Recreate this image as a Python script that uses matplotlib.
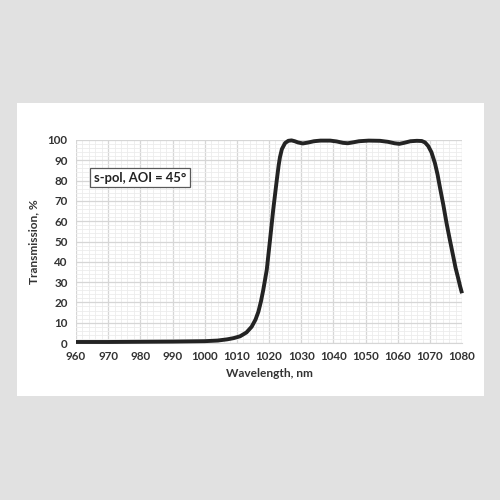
import matplotlib
matplotlib.use("Agg")
import matplotlib.pyplot as plt
from matplotlib.patches import Rectangle
from matplotlib.ticker import MultipleLocator

plt.rcParams["font.family"] = ["Lato", "DejaVu Sans"]

# values
wavelength = [960, 970, 980, 990, 1000, 1004, 1007, 1009, 1011, 1013, 1014.6,
              1015.8, 1016.7, 1017.5, 1018.2, 1019.3, 1020.3, 1021.3, 1022.4,
              1023, 1023.4, 1024, 1025, 1026, 1027, 1028, 1029, 1030.5, 1032,
              1034, 1036, 1039, 1041, 1043, 1044.5, 1046, 1048, 1051, 1054.5,
              1057, 1059, 1060.5, 1062, 1064, 1066, 1067.5, 1068.5, 1069.5,
              1070.5, 1071.6, 1072.4, 1073.1, 1074.2, 1075.2, 1076.2, 1077.3,
              1078, 1078.8, 1079.4, 1080]
transmission = [0.5, 0.5, 0.6, 0.7, 0.9, 1.2, 1.8, 2.4, 3.3, 5.2, 8,
                11.5, 15.4, 20.5, 26, 36, 50.5, 65.5, 80,
                87.5, 91.5, 95.5, 98.5, 99.6, 99.8, 99.4, 98.8, 98.3, 98.7,
                99.4, 99.7, 99.7, 99.3, 98.6, 98.4, 98.8, 99.4, 99.7, 99.6,
                99.1, 98.4, 98.1, 98.6, 99.4, 99.6, 99.5, 98.8, 97,
                94, 88.5, 83, 77, 68, 59, 51, 42.5,
                37, 32, 28, 24.5]

x_ticks = list(range(960, 1081, 10))
y_ticks = list(range(0, 101, 10))

fig = plt.figure(figsize=(5, 5), dpi=100, facecolor="#e1e1e1")
panel = Rectangle((0.034, 0.208), 0.934, 0.586, transform=fig.transFigure,
                  facecolor="white", edgecolor="none", zorder=-5)
fig.add_artist(panel)

ax = fig.add_axes([0.152, 0.314, 0.772, 0.406])
ax.set_facecolor("none")
ax.plot(wavelength, transmission, color="#232323", lw=2.8, clip_on=False,
        solid_capstyle="butt", zorder=3)

ax.set_xlim(960, 1080)
ax.set_ylim(0, 100)
ax.set_xticks(x_ticks)
ax.set_yticks(y_ticks)
ax.xaxis.set_minor_locator(MultipleLocator(2))
ax.yaxis.set_minor_locator(MultipleLocator(2))
ax.grid(which="major", color="#d6d6d6", lw=0.9)
ax.grid(which="minor", color="#ececec", lw=0.6)
ax.set_axisbelow(True)
for s in ax.spines.values():
    s.set_visible(False)
ax.spines["bottom"].set_visible(True)
ax.spines["bottom"].set_color("#d6d6d6")
ax.tick_params(which="both", length=0, labelsize=8.4, labelcolor="#333333", pad=6)
for lab in ax.get_xticklabels() + ax.get_yticklabels():
    lab.set_fontweight("bold")

ax.set_xlabel("Wavelength, nm", fontsize=8.6, fontweight="bold", color="#333333", labelpad=4)
ax.set_ylabel("Transmission, %", fontsize=8.6, fontweight="bold", color="#333333", labelpad=6)

ax.text(0.047, 0.815, "s-pol, AOI = 45°", transform=ax.transAxes, fontsize=9.4,
        fontweight="bold", color="#232323", va="center", ha="left",
        bbox=dict(boxstyle="square,pad=0.3", facecolor="white", edgecolor="#595959", lw=0.9))

fig.savefig("out.png", dpi=100, facecolor=fig.get_facecolor())
